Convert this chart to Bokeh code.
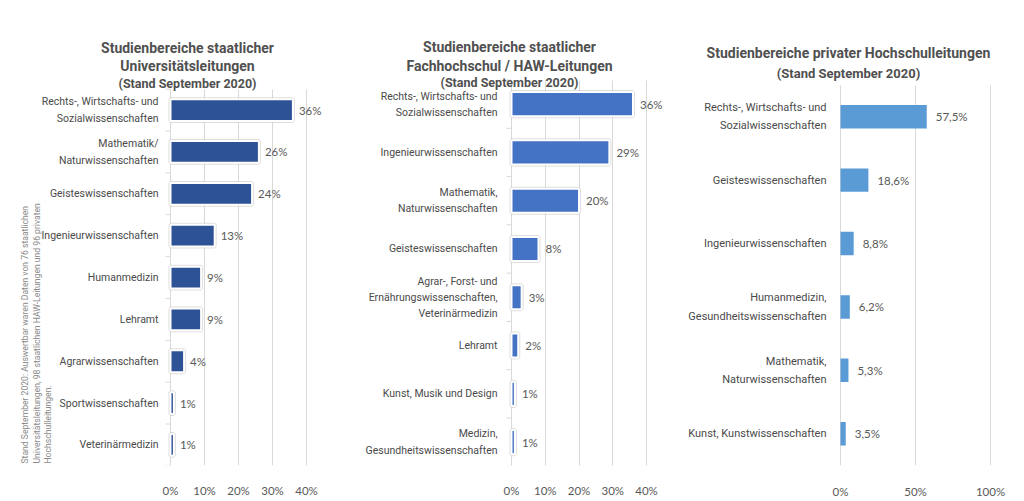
from math import pi
from bokeh.plotting import figure
from bokeh.models import Range1d, FixedTicker, ColumnDataSource, Grid
from bokeh.layouts import row
from bokeh.embed import file_html
from bokeh.resources import INLINE
from bokeh.core.properties import value

# ---------------- data ----------------
uni_categories = ["Rechts-, Wirtschafts- und\nSozialwissenschaften", "Mathematik/\nNaturwissenschaften",
                  "Geisteswissenschaften", "Ingenieurwissenschaften", "Humanmedizin", "Lehramt",
                  "Agrarwissenschaften", "Sportwissenschaften", "Veterinärmedizin"]
uni_values = [36, 26, 24, 13, 9, 9, 4, 1, 1]

haw_categories = ["Rechts-, Wirtschafts- und\nSozialwissenschaften", "Ingenieurwissenschaften",
                  "Mathematik,\nNaturwissenschaften", "Geisteswissenschaften",
                  "Agrar-, Forst- und\nErnährungswissenschaften,\nVeterinärmedizin", "Lehramt",
                  "Kunst, Musik und Design", "Medizin,\nGesundheitswissenschaften"]
haw_values = [36, 29, 20, 8, 3, 2, 1, 1]

priv_categories = ["Rechts-, Wirtschafts- und\nSozialwissenschaften", "Geisteswissenschaften",
                   "Ingenieurwissenschaften", "Humanmedizin,\nGesundheitswissenschaften",
                   "Mathematik,\nNaturwissenschaften", "Kunst, Kunstwissenschaften"]
priv_values = [57.5, 18.6, 8.8, 6.2, 5.3, 3.5]

state_ticks = [0, 10, 20, 30, 40]
state_tick_labels = ["0%", "10%", "20%", "30%", "40%"]
priv_ticks = [0, 50, 100]
priv_tick_labels = ["0%", "50%", "100%"]

uni_title = ["Studienbereiche staatlicher", "Universitätsleitungen", "(Stand September 2020)"]
haw_title = ["Studienbereiche staatlicher", "Fachhochschul / HAW-Leitungen", "(Stand September 2020)"]
priv_title = ["Studienbereiche privater Hochschulleitungen", "(Stand September 2020)"]

footnote = ["Stand September 2020: Auswertbar waren Daten von 76 staatlichen",
            "Universitätsleitungen, 98 staatlichen HAW-Leitungen und 96 privaten",
            "Hochschulleitungen."]

SANS = "Roboto"
NUMFONT = "Lato"
TXT = "#595959"
GRID = "#d9d9d9"
H = 500
HAS_CROSS = "cross_bounds" in Grid.properties()


class Panel:
    """One chart panel; frame covers the figure except the bottom axis strip."""

    def __init__(self, cats, page_left, width, zero_px, ppu, row0_px, row_px, bottom_px):
        self.n = len(cats)
        self.zero_px = zero_px
        self.ppu = ppu
        self.row0_px = row0_px
        self.row_px = row_px
        x0 = (page_left - zero_px) / ppu
        x1 = (page_left + width - zero_px) / ppu
        y_bottom = (bottom_px - row0_px) / row_px
        y_top = (0 - row0_px) / row_px
        self.p = figure(width=width, height=H, output_backend="svg", toolbar_location=None,
                        x_range=Range1d(x0, x1), y_range=Range1d(y_bottom, y_top),
                        y_axis_location=None, min_border_left=0, min_border_right=0,
                        min_border_top=0, min_border_bottom=H - bottom_px,
                        background_fill_color="white", border_fill_color="white")
        self.p.outline_line_color = None
        self.p.ygrid.grid_line_color = None

    def dx(self, px):
        return (px - self.zero_px) / self.ppu

    def dy(self, py):
        return (py - self.row0_px) / self.row_px


def build(cats, vals, texts, color, geom, ticks, tick_labels, grid_ticks, axis_line, glow,
          bar_h, cat_size, cat_lh, cat_gap, val_gap, tick_standoff, titles, title_x, title_ys,
          title_sizes):
    pn = Panel(cats, *geom)
    p = pn.p
    n = pn.n
    idx = list(range(n))

    # grid
    if HAS_CROSS:
        p.xgrid.ticker = FixedTicker(ticks=grid_ticks)
        p.xgrid.grid_line_color = GRID
        p.xgrid.cross_bounds = (-0.5, n - 0.5)
    else:
        p.xgrid.grid_line_color = None
        p.segment(x0=grid_ticks, x1=grid_ticks, y0=[-0.5] * len(grid_ticks),
                  y1=[n - 0.5] * len(grid_ticks), line_color=GRID, line_width=1)

    # x axis
    p.xaxis.ticker = FixedTicker(ticks=ticks)
    p.xaxis.major_label_overrides = {t: l for t, l in zip(ticks, tick_labels)}
    p.xaxis.axis_line_color = None
    p.xaxis.major_tick_line_color = None
    p.xaxis.minor_tick_line_color = None
    p.xaxis.major_label_text_font = NUMFONT
    p.xaxis.major_label_text_font_size = "11.5px"
    p.xaxis.major_label_text_color = TXT
    p.xaxis.major_label_standoff = tick_standoff

    # category axis line with small ticks between categories
    if axis_line:
        bounds = [i - 0.5 for i in range(n + 1)]
        p.segment(x0=[0], x1=[0], y0=[-0.5], y1=[n - 0.5], line_color=GRID, line_width=1)
        p.segment(x0=[pn.dx(pn.zero_px - 5)] * len(bounds), x1=[0] * len(bounds),
                  y0=bounds, y1=bounds, line_color=GRID, line_width=1)

    src = ColumnDataSource(dict(y=idx, v=vals, t=texts, c=cats, z=[0] * n))
    if glow:
        p.hbar(y="y", right="v", left=0, height=bar_h, source=src, fill_color=None,
               line_color="#bfbfbf", line_width=4, line_alpha=0.5)
        p.hbar(y="y", right="v", left=0, height=bar_h, source=src, fill_color=color,
               line_color="white", line_width=2)
    else:
        p.hbar(y="y", right="v", left=0, height=bar_h, source=src, fill_color=color,
               line_color=None)

    # value labels
    p.text(x="v", y="y", text="t", source=src, x_offset=val_gap, text_baseline="middle",
           text_align="left", text_font=value(NUMFONT), text_font_size="11.5px", text_color=TXT)
    # category labels
    p.text(x="z", y="y", text="c", source=src, x_offset=-cat_gap, text_baseline="middle",
           text_align="right", text_font=value(SANS), text_font_size=cat_size,
           text_line_height=cat_lh, text_color="#4a4a4a")

    # titles
    for txt, py, sz in zip(titles, title_ys, title_sizes):
        p.text(x=[pn.dx(title_x)], y=[pn.dy(py)], text=[txt], text_align="center",
               text_baseline="middle", text_font=value(SANS), text_font_style="bold",
               text_font_size=sz, text_color="#505050")
    return pn


# panel 1
uni_texts = [f"{v:.0f}%" for v in uni_values]
pn1 = build(uni_categories, uni_values, uni_texts, "#2E5296",
            (0, 340, 170, 3.4, 111, 42.4, 471), state_ticks, state_tick_labels, state_ticks[1:],
            True, True, 0.52, "10.5px", 1.3, 12, 6, 12,
            uni_title, 187, [48, 66, 84], ["14px", "14px", "12.5px"])
for txt, px in zip(footnote, [24, 36, 47]):
    pn1.p.text(x=[pn1.dx(px)], y=[pn1.dy(469)], text=[txt], angle=pi / 2, text_align="left",
               text_baseline="middle", text_font=value(SANS), text_font_size="8.6px",
               text_color="#8a8a8a")

# panel 2
haw_texts = [f"{v:.0f}%" for v in haw_values]
pn2 = build(haw_categories, haw_values, haw_texts, "#4472C4",
            (340, 330, 511, 3.375, 105, 48.9, 471), state_ticks, state_tick_labels, state_ticks[1:],
            True, True, 0.5, "10.5px", 1.25, 14, 7, 12,
            haw_title, 509, [47, 66, 83], ["14px", "14px", "12.5px"])

# panel 3
priv_texts = [f"{v:.1f}".replace(".", ",") + "%" for v in priv_values]
pn3 = build(priv_categories, priv_values, priv_texts, "#5B9BD5",
            (670, 346, 840, 1.5, 117, 63.8, 468), priv_ticks, priv_tick_labels, priv_ticks,
            False, False, 0.37, "11px", 1.4, 14, 9, 13,
            priv_title, 848, [53, 73], ["14px", "13px"])

layout = row(pn1.p, pn2.p, pn3.p)
open("out.html", "w").write(file_html(layout, INLINE))
